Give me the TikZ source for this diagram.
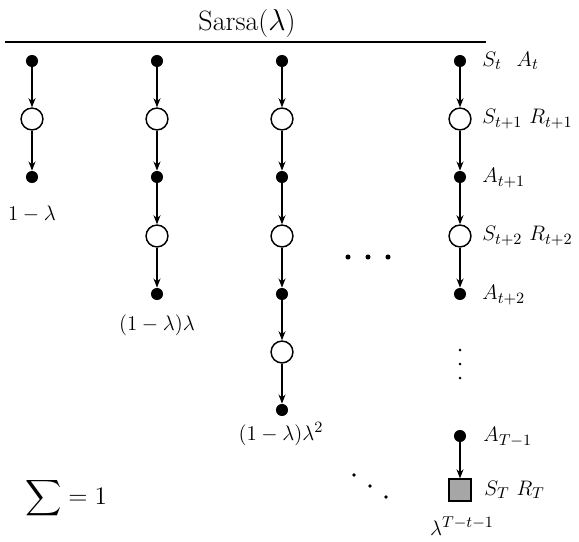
\documentclass[tikz,border=0pt]{standalone}
\usepackage{amsmath}
\usetikzlibrary{arrows.meta}
\begin{document}
\begin{tikzpicture}[x=0.5714pt,y=-0.5714pt,
  act/.style={circle,fill=black,inner sep=0pt,minimum size=6.9pt},
  st/.style={circle,draw=black,line width=0.85pt,fill=white,inner sep=0pt,minimum size=12.5pt},
  term/.style={rectangle,draw=black,line width=0.85pt,fill=black!35,inner sep=0pt,minimum size=12.4pt},
  arr/.style={-{Stealth[length=5.2pt,width=4pt]},line width=0.65pt},
  lab/.style={anchor=west,inner sep=0pt,font=\fontsize{12.3}{15}\selectfont},
  wt/.style={font=\fontsize{12.3}{15}\selectfont},
  sm/.style={circle,fill=black,inner sep=0pt}]
\useasboundingbox (0,0) rectangle (579,541);
\node[font=\fontsize{16}{19}\selectfont] (title) at (247,23) {Sarsa($\lambda$)};
\coordinate (r1) at (5,42);
\coordinate (r2) at (486,42);
\draw[line width=0.65pt] (r1) -- (r2);
% column 1
\node[act] (a1) at (32,61) {};
\node[st] (b1) at (32,119) {};
\node[act] (c1) at (32,177) {};
\draw[arr] (a1) -- (b1);
\draw[arr] (b1) -- (c1);
\node[wt] (w1) at (32,214) {$1-\lambda$};
% column 2
\node[act] (a2) at (157,61) {};
\node[st] (b2) at (157,119) {};
\node[act] (c2) at (157,177) {};
\node[st] (d2) at (157,236) {};
\node[act] (e2) at (157,294) {};
\foreach \u/\v in {a2/b2,b2/c2,c2/d2,d2/e2} \draw[arr] (\u) -- (\v);
\node[wt] (w2) at (157,325) {$(1-\lambda)\lambda$};
% column 3
\node[act] (a3) at (282,61) {};
\node[st] (b3) at (282,119) {};
\node[act] (c3) at (282,177) {};
\node[st] (d3) at (282,236) {};
\node[act] (e3) at (282,294) {};
\node[st] (f3) at (282,352) {};
\node[act] (g3) at (282,410) {};
\foreach \u/\v in {a3/b3,b3/c3,c3/d3,d3/e3,e3/f3,f3/g3} \draw[arr] (\u) -- (\v);
\node[wt] (w3) at (281,434) {$(1-\lambda)\lambda^2$};
% column 4
\node[act] (a4) at (460,61) {};
\node[st] (b4) at (460,119) {};
\node[act] (c4) at (460,177) {};
\node[st] (d4) at (460,236) {};
\node[act] (e4) at (460,294) {};
\node[act] (g4) at (460,436) {};
\node[term] (h4) at (460,490) {};
\foreach \u/\v in {a4/b4,b4/c4,c4/d4,d4/e4,g4/h4} \draw[arr] (\u) -- (\v);
\node[lab] (l1) at (482,61) {$S_t\hspace{8.5pt}A_t$};
\node[lab] (l2) at (482,119) {$S_{t+1}\ R_{t+1}$};
\node[lab] (l3) at (482,178) {$A_{t+1}$};
\node[lab] (l4) at (482,236) {$S_{t+2}\ R_{t+2}$};
\node[lab] (l5) at (482,295) {$A_{t+2}$};
\node[lab] (l6) at (483,437) {$A_{T-1}$};
\node[lab] (l7) at (484,490) {$S_T\ R_T$};
\node[wt] (w4) at (462,526) {$\lambda^{T-t-1}$};
% vertical dots
\node[sm,minimum size=1.7pt] (v1) at (460,350) {};
\node[sm,minimum size=1.7pt] (v2) at (460,364) {};
\node[sm,minimum size=1.7pt] (v3) at (460,378) {};
% horizontal dots
\node[sm,minimum size=2.9pt] (h1) at (348,257) {};
\node[sm,minimum size=2.9pt] (h2) at (368,257) {};
\node[sm,minimum size=2.9pt] (h3) at (388,257) {};
% diagonal dots
\node[sm,minimum size=2.2pt] (d1) at (354,475) {};
\node[sm,minimum size=2.2pt] (dd2) at (370,486) {};
\node[sm,minimum size=2.2pt] (dd3) at (386,497) {};
% sum
\node[font=\fontsize{15}{18}\selectfont] (sum) at (66,498) {$\displaystyle\sum=1$};
\end{tikzpicture}
\end{document}
